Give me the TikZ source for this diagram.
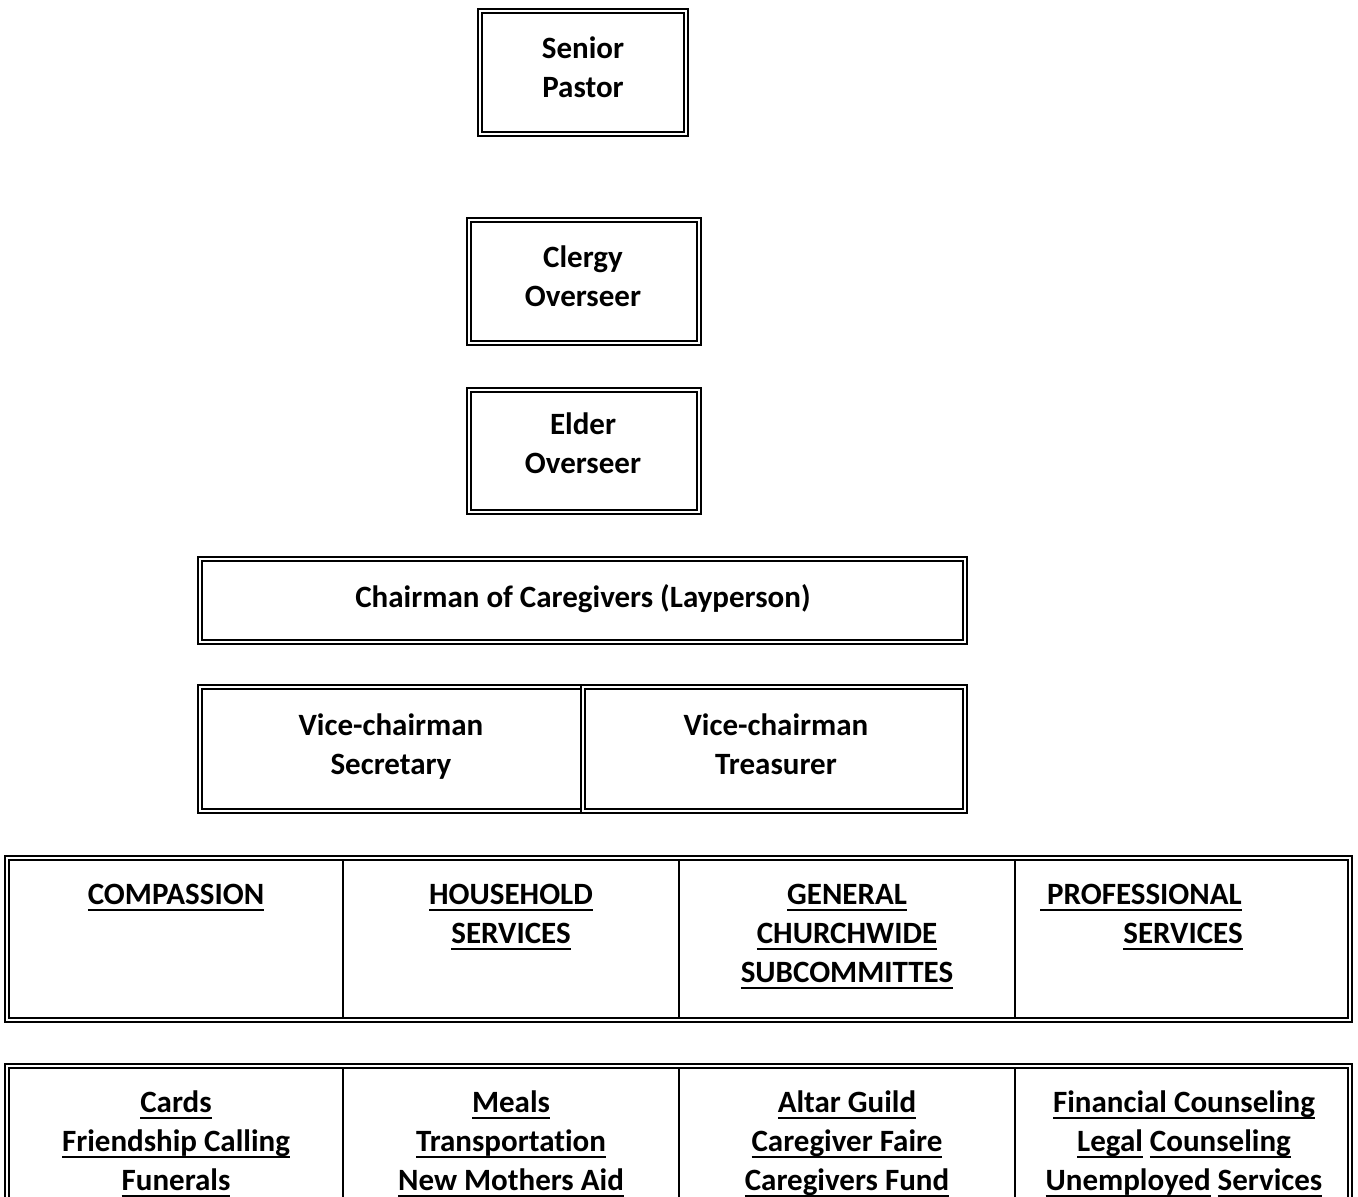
\documentclass[tikz,border=0pt]{standalone}
\usepackage{fontspec}
\setmainfont{Carlito}[Ligatures=NoCommon]
\newcommand\myul[1]{\setbox0\hbox{#1}\rlap{\rule[-6.5pt]{\wd0}{2pt}}\box0\relax}
\begin{document}
\begin{tikzpicture}[x=1pt,y=-1pt,
  dbox/.style={draw, line width=2pt, double=white, double distance=1.8pt, inner sep=0pt, rectangle},
  lbl/.style={font=\fontsize{31}{39}\selectfont\bfseries, align=center, anchor=base, inner sep=0pt},
  divider/.style={line width=2pt}]
\useasboundingbox (0,0) rectangle (1358,1197);
\clip (0,0) rectangle (1358,1197);

% upper boxes
\node[dbox, minimum width=206pt, minimum height=123pt] (sp) at (583,72.5) {};
\node[dbox, minimum width=230pt, minimum height=123pt] (co) at (584,281.5) {};
\node[dbox, minimum width=230pt, minimum height=122pt] (eo) at (584,451) {};
\node[dbox, minimum width=765pt, minimum height=83pt] (ch) at (582.5,600.5) {};
\node[dbox, minimum width=383pt, minimum height=124pt] (vs) at (391.5,749) {};
\node[dbox, minimum width=382pt, minimum height=124pt] (vt) at (774,749) {};

% (base anchor = baseline of the last line)
\node[lbl] (t-sp) at (583,97) {Senior\\Pastor};
\node[lbl] (t-co) at (583,306) {Clergy\\Overseer};
\node[lbl] (t-eo) at (583,473) {Elder\\Overseer};
\node[lbl] (t-ch) at (583,607) {Chairman of Caregivers (Layperson)};
\node[lbl] (t-vs) at (391,774) {Vice-chairman\\Secretary};
\node[lbl] (t-vt) at (776,774) {Vice-chairman\\Treasurer};

% committee table
\coordinate (d1a) at (343,861); \coordinate (d1b) at (343,1017);
\coordinate (d2a) at (679,861); \coordinate (d2b) at (679,1017);
\coordinate (d3a) at (1015,861); \coordinate (d3b) at (1015,1017);
\draw[divider] (d1a) -- (d1b);
\draw[divider] (d2a) -- (d2b);
\draw[divider] (d3a) -- (d3b);
\node[dbox, minimum width=1343pt, minimum height=162pt] (tab1) at (678.5,939) {};

\node[lbl] (t-c1) at (176,904) {\myul{COMPASSION}};
\node[lbl] (t-c2) at (511,943) {\myul{HOUSEHOLD}\\\myul{SERVICES}};
\node[lbl] (t-c3) at (847,982) {\myul{GENERAL}\\\myul{CHURCHWIDE}\\\myul{SUBCOMMITTES}};
\node[lbl, anchor=base west] (t-c4a) at (1040,904) {\myul{\ PROFESSIONAL}};
\node[lbl] (t-c4b) at (1183,943) {\myul{SERVICES}};

% activities table
\coordinate (e1a) at (343,1069); \coordinate (e1b) at (343,1237);
\coordinate (e2a) at (679,1069); \coordinate (e2b) at (679,1237);
\coordinate (e3a) at (1015,1069); \coordinate (e3b) at (1015,1237);
\draw[divider] (e1a) -- (e1b);
\draw[divider] (e2a) -- (e2b);
\draw[divider] (e3a) -- (e3b);
\node[dbox, minimum width=1343pt, minimum height=174pt] (tab2) at (678.5,1153) {};

\node[lbl] (t-a1) at (176,1190) {\myul{Cards}\\\myul{Friendship Calling}\\\myul{Funerals}};
\node[lbl] (t-a2) at (511,1190) {\myul{Meals}\\\myul{Transportation}\\\myul{New Mothers Aid}};
\node[lbl] (t-a3) at (847,1190) {\myul{Altar Guild}\\\myul{Caregiver Faire}\\\myul{Caregivers Fund}};
\node[lbl] (t-a4) at (1184,1190) {\myul{Financial Counseling}\\\myul{Legal} \myul{Counseling}\\\myul{Unemployed} \myul{Services}};
\end{tikzpicture}
\end{document}
